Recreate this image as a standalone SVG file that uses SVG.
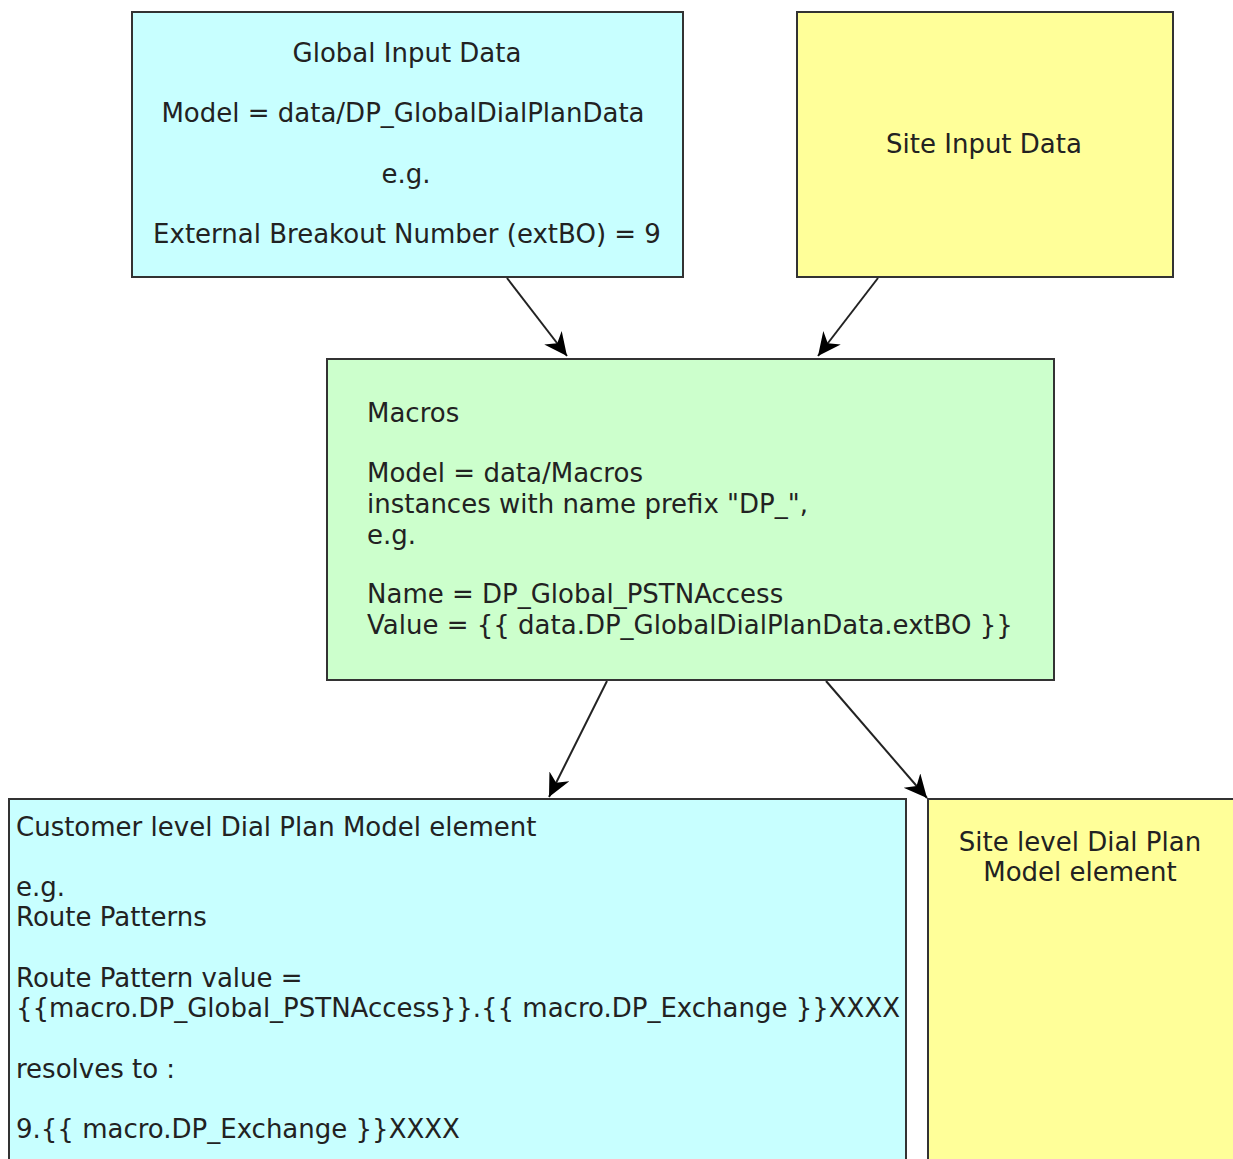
<svg xmlns="http://www.w3.org/2000/svg" width="1233" height="1159" viewBox="0 0 1233 1159">
<defs>
<style>
.box{stroke:#333;stroke-width:2}
.cyan{fill:#c8ffff}
.yellow{fill:#ffff99}
.green{fill:#ccffcc}
text{font-family:"DejaVu Sans","Liberation Sans",sans-serif;font-size:26px;fill:#222}
.c{text-anchor:middle}
.conn{stroke:#222;stroke-width:2;fill:none}
</style>
<marker id="arr" markerUnits="userSpaceOnUse" markerWidth="26" markerHeight="24" refX="23" refY="11" orient="auto">
<path d="M0,0 L23,11 L0,22 L7,11 z" fill="#000"/>
</marker>
</defs>
<rect width="1233" height="1159" fill="#fff"/>
<g id="connectors">
<line class="conn" x1="507" y1="278" x2="567" y2="356" marker-end="url(#arr)"/>
<line class="conn" x1="878" y1="278" x2="818" y2="356" marker-end="url(#arr)"/>
<line class="conn" x1="607" y1="681" x2="549" y2="797" marker-end="url(#arr)"/>
<line class="conn" x1="826" y1="681" x2="927" y2="798" marker-end="url(#arr)"/>
</g>
<g id="global-input">
<rect class="box cyan" x="132" y="12" width="551" height="265"/>
<text class="c" x="407" y="62">Global Input Data</text>
<text class="c" x="403" y="122">Model = data/DP_GlobalDialPlanData</text>
<text class="c" x="406" y="183">e.g.</text>
<text class="c" x="407" y="243">External Breakout Number (extBO) = 9</text>
</g>
<g id="site-input">
<rect class="box yellow" x="797" y="12" width="376" height="265"/>
<text class="c" x="984" y="153">Site Input Data</text>
</g>
<g id="macros">
<rect class="box green" x="327" y="359" width="727" height="321"/>
<text x="367" y="422">Macros</text>
<text x="367" y="482">Model = data/Macros</text>
<text x="367" y="513">instances with name prefix "DP_",</text>
<text x="367" y="544">e.g.</text>
<text x="367" y="603">Name = DP_Global_PSTNAccess</text>
<text x="367" y="634">Value = {{ data.DP_GlobalDialPlanData.extBO }}</text>
</g>
<g id="customer-level">
<rect class="box cyan" x="9" y="799" width="897" height="380"/>
<text x="16" y="836">Customer level Dial Plan Model element</text>
<text x="16" y="896">e.g.</text>
<text x="16" y="926">Route Patterns</text>
<text x="16" y="987">Route Pattern value =</text>
<text x="16" y="1017">{{macro.DP_Global_PSTNAccess}}.{{ macro.DP_Exchange }}XXXX</text>
<text x="16" y="1078">resolves to :</text>
<text x="16" y="1138">9.{{ macro.DP_Exchange }}XXXX</text>
</g>
<g id="site-level">
<rect class="box yellow" x="928" y="799" width="320" height="380"/>
<text class="c" x="1080" y="851">Site level Dial Plan</text>
<text class="c" x="1080" y="881">Model element</text>
</g>
</svg>
